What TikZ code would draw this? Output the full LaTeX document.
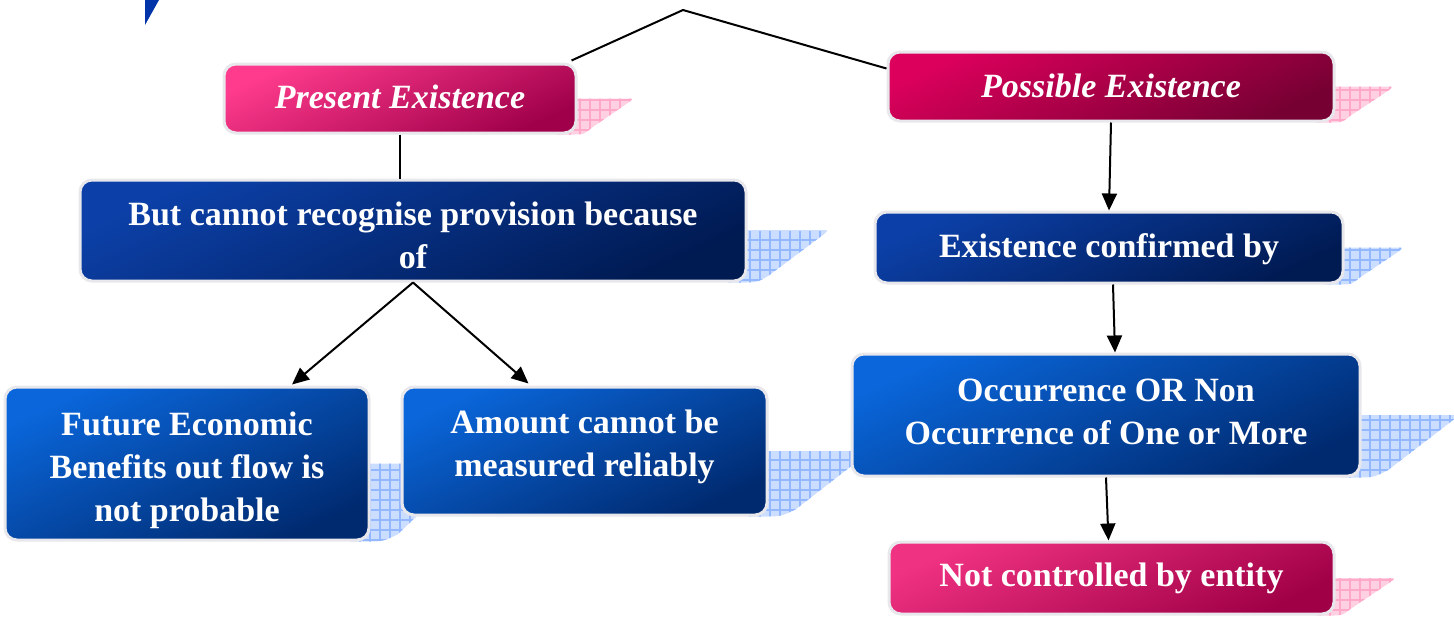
\documentclass[tikz,border=0pt]{standalone}
\usepackage{fontspec}
\setmainfont{Liberation Serif}
\usetikzlibrary{calc,arrows.meta,backgrounds}

\definecolor{pinkA}{HTML}{FF3B8D}
\definecolor{pinkAd}{HTML}{A0004A}
\definecolor{pinkB}{HTML}{DC005C}
\definecolor{pinkBd}{HTML}{760032}
\definecolor{pinkC}{HTML}{F03282}
\definecolor{pinkCd}{HTML}{A00046}
\definecolor{navyA}{HTML}{0C40A8}
\definecolor{navyAd}{HTML}{001A52}
\definecolor{blueA}{HTML}{0A66DA}
\definecolor{blueAd}{HTML}{002A70}
\definecolor{rimgray}{HTML}{E8E8EC}
\definecolor{shBlueFill}{HTML}{CCDEFF}
\definecolor{shBlueLine}{HTML}{94B8FF}
\definecolor{shPinkFill}{HTML}{FFD0E2}
\definecolor{shPinkLine}{HTML}{FFA8C8}
\definecolor{wedge}{HTML}{0034A8}

\tikzset{
  box/.style={rectangle, rounded corners=12pt, draw=rimgray, line width=3pt,
    text=white, align=center, inner sep=4pt,
    font=\fontsize{34}{43}\selectfont\bfseries},
  titlefont/.style={font=\fontsize{34}{43}\selectfont\bfseries\itshape},
  pinkbox/.style={box, top color=#1, bottom color=#1d, shading angle=25},
  bluebox/.style={box, top color=#1, bottom color=#1d, shading angle=25},
  link/.style={line width=2pt, black},
  arrowlink/.style={link, -{Triangle[length=17pt,width=15pt]}},
}

% box label, moved up by #1 inside its box
\newcommand\boxtext[2]{\raisebox{#1}[\height][\depth]{\begin{tabular}{@{}c@{}}#2\end{tabular}}}

% light chequered drop shade to the right of a box
% #1 node name, #2 reach, #3 fill colour, #4 grid colour
\newcommand\dropshade[4]{%
  \begin{scope}
    \clip ($(#1.east)+(-20,0)$) -- ($(#1.east)+(#2-4,0)$)
      .. controls ($(#1.east)+(#2+2,0)$) .. ($(#1.east)+(#2-3,4)$)
      -- ($(#1.south east)+(0.27*#2,-7)$)
      .. controls ($(#1.south east)+(0.12*#2,0)$) .. ($(#1.south east)+(-4,0)$)
      -- ($(#1.south east)+(-20,0)$) -- cycle;
    \fill[#3] ($(#1.south east)+(-30,10)$) rectangle ($(#1.east)+(#2+10,-10)$);
    \draw[#4, line width=1.3pt, step=10pt] ($(#1.south east)+(-30,10)$) grid ($(#1.east)+(#2+10,-10)$);
  \end{scope}}

\begin{document}
\begin{tikzpicture}[x=1pt, y=-1pt]
\useasboundingbox (0,0) rectangle (1454,619);

% corner wedge
\fill[wedge] (145,0) -- (159,0) -- (145,25) -- cycle;

% boxes
\node[pinkbox=pinkA, titlefont, minimum width=352pt, minimum height=69pt] (pe) at (400,98.5)
      {\boxtext{-1pt}{Present Existence}};
\node[pinkbox=pinkB, titlefont, minimum width=446pt, minimum height=69pt] (pos) at (1111,86.5)
      {\boxtext{-2pt}{Possible Existence}};
\node[bluebox=navyA, minimum width=666pt, minimum height=101pt] (but) at (413,230.5)
      {\boxtext{-8pt}{But cannot recognise provision because\\of}};
\node[bluebox=blueA, minimum width=364pt, minimum height=153pt] (fut) at (187,463.5)
      {\boxtext{-6pt}{Future Economic\\Benefits out flow is\\not probable}};
\node[bluebox=blueA, minimum width=365pt, minimum height=128pt] (amt) at (584.5,451)
      {\boxtext{5pt}{Amount cannot be\\measured reliably}};
\node[bluebox=navyA, minimum width=468pt, minimum height=71pt] (ex) at (1109,247.5)
      {\boxtext{-1pt}{Existence confirmed by}};
\node[bluebox=blueA, minimum width=508pt, minimum height=122pt] (occ) at (1106,415)
      {\boxtext{1pt}{Occurrence OR Non\\Occurrence of One or More}};
\node[pinkbox=pinkC, minimum width=445pt, minimum height=72pt] (nc) at (1111.5,578)
      {\boxtext{0pt}{Not controlled by entity}};

% drop shades behind the boxes
\begin{scope}[on background layer]
  \dropshade{pe}{54}{shPinkFill}{shPinkLine}
  \dropshade{pos}{56}{shPinkFill}{shPinkLine}
  \dropshade{nc}{58}{shPinkFill}{shPinkLine}
  \dropshade{but}{79}{shBlueFill}{shBlueLine}
  \dropshade{ex}{57}{shBlueFill}{shBlueLine}
  \dropshade{occ}{96}{shBlueFill}{shBlueLine}
  \dropshade{amt}{100}{shBlueFill}{shBlueLine}
  \dropshade{fut}{100}{shBlueFill}{shBlueLine}
\end{scope}

% connectors
\coordinate (peak) at (683,10);
\draw[link] ($(pe.north east)+(-6,-2)$) -- (peak) -- ($(pos.north west)+(0,18)$);
\draw[link] (pe.south) -- (pe.south |- but.north);
\draw[arrowlink] (but.south) -- ($(fut.north)+(105,-1)$);
\draw[arrowlink] (but.south) -- ($(amt.north)+(-56,-2)$);
\draw[arrowlink] (pos.south) -- (ex.north);
\draw[arrowlink] ($(ex.south)+(4,0)$) -- ($(occ.north)+(9,0)$);
\draw[arrowlink] (occ.south) -- ($(nc.north)+(-3,0)$);
\end{tikzpicture}
\end{document}
